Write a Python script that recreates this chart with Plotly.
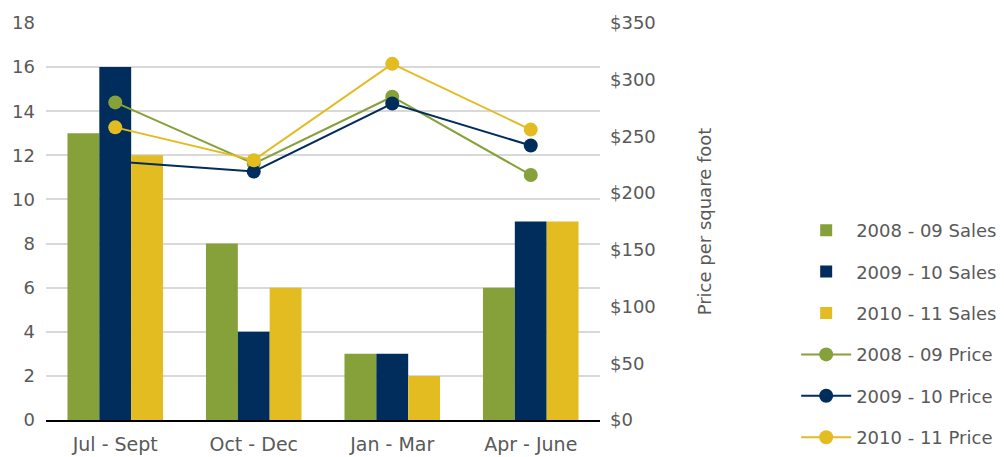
import plotly.graph_objects as go

categories = ["Jul - Sept", "Oct - Dec", "Jan - Mar", "Apr - June"]
sales_0809 = [13, 8, 3, 6]
sales_0910 = [16, 4, 3, 9]
sales_1011 = [12, 6, 2, 9]
price_0809 = [280, 226, 285, 216]
price_0910 = [228, 219, 279, 242]
price_1011 = [258, 229, 314, 256]

green = "#86A03A"
navy = "#002D5B"
yellow = "#E3BC22"
text_color = "#595959"
FONT = "DejaVu Sans"
FS = 18

fig = go.Figure()
for name, vals, col in [("2008 - 09 Sales", sales_0809, green),
                        ("2009 - 10 Sales", sales_0910, navy),
                        ("2010 - 11 Sales", sales_1011, yellow)]:
    fig.add_trace(go.Bar(x=categories, y=vals, name=name, marker_color=col,
                         marker_line_width=0, legendgroup=name, yaxis="y"))
for name, vals, col in [("2008 - 09 Price", price_0809, green),
                        ("2009 - 10 Price", price_0910, navy),
                        ("2010 - 11 Price", price_1011, yellow)]:
    fig.add_trace(go.Scatter(x=categories, y=vals, name=name, mode="lines+markers",
                             line=dict(color=col, width=2),
                             marker=dict(color=col, size=14),
                             legendgroup=name, yaxis="y2"))

fig.update_layout(
    width=1004, height=457,
    margin=dict(l=46, r=404, t=23, b=37, autoexpand=False),
    paper_bgcolor="white", plot_bgcolor="white",
    font=dict(family=FONT, size=FS, color=text_color),
    barmode="group", bargap=0.31, bargroupgap=0,
    xaxis=dict(showgrid=False, showline=True, linecolor="black", linewidth=1.5,
               automargin=False, ticks="", ticklabelstandoff=6,
               tickfont=dict(size=19, color=text_color)),
    yaxis=dict(range=[0, 18], dtick=2, showgrid=True, gridcolor="#D9D9D9",
               gridwidth=1.5, zeroline=False, showline=False, ticks="",
               automargin=False, ticklabelstandoff=10,
               tickfont=dict(size=FS, color=text_color)),
    yaxis2=dict(range=[0, 350], dtick=50, overlaying="y", side="right",
                showgrid=False, zeroline=False, showline=False, ticks="",
                automargin=False, tickprefix="$", ticklabelstandoff=9,
                tickfont=dict(size=FS, color=text_color),
                title=dict(text="Price per square foot", standoff=43,
                           font=dict(size=FS, color=text_color))),
    legend=dict(x=0.793, xref="container", xanchor="left",
                y=1 - 212 / 457, yref="container", yanchor="top",
                maxheight=260, tracegroupgap=15,
                font=dict(size=FS, color=text_color),
                itemwidth=50, bgcolor="rgba(0,0,0,0)"),
)

fig.write_html("out.html")
